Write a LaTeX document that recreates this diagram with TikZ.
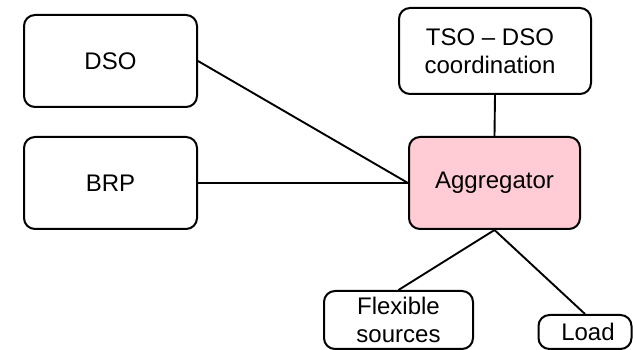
\documentclass[tikz,border=0pt]{standalone}
\usepackage{fontspec}
\setmainfont{Liberation Sans}
\definecolor{rose}{RGB}{255,204,213}
\begin{document}
\begin{tikzpicture}[x=1pt,y=-1pt]
		\tikzstyle{boite}=[draw,line width=2pt,rounded corners=11pt,align=center,inner sep=0pt,font=\fontsize{24}{27.5}\selectfont]
		\tikzstyle{trait}=[line width=1.9pt]
		\def\LargeurGauche{173}
		\def\HauteurGauche{92}
		\useasboundingbox (0,0) rectangle (633,350);
		\node[boite,minimum width=\LargeurGauche,minimum height=\HauteurGauche] (DSO) at (110.5,61) {DSO};
		\node[boite,minimum width=\LargeurGauche,minimum height=\HauteurGauche] (BRP) at (110.5,183) {BRP};
		\node[boite,minimum width=192,minimum height=86] (TSO) at (495,51) {\hspace*{-10pt}TSO -- DSO\\\hspace*{-10pt}coordination};
		\node[boite,fill=rose,minimum width=171,minimum height=92] (Agg) at (494.5,183) {Aggregator};
		\node[boite,minimum width=149,minimum height=58] (Flex) at (398.5,320) {Flexible\\sources};
		\node[boite,minimum width=93,minimum height=34] (Load) at (585,332) {\hspace*{6pt}Load};
		\draw[trait] (DSO.east)--(Agg.west);
		\draw[trait] (BRP.east)--(Agg.west);
		\draw[trait] (TSO.south)--(Agg.north);
		\draw[trait] (Agg.south)--(Flex.north);
		\draw[trait] (Agg.south)--(Load.north);
	\end{tikzpicture}
\end{document}
